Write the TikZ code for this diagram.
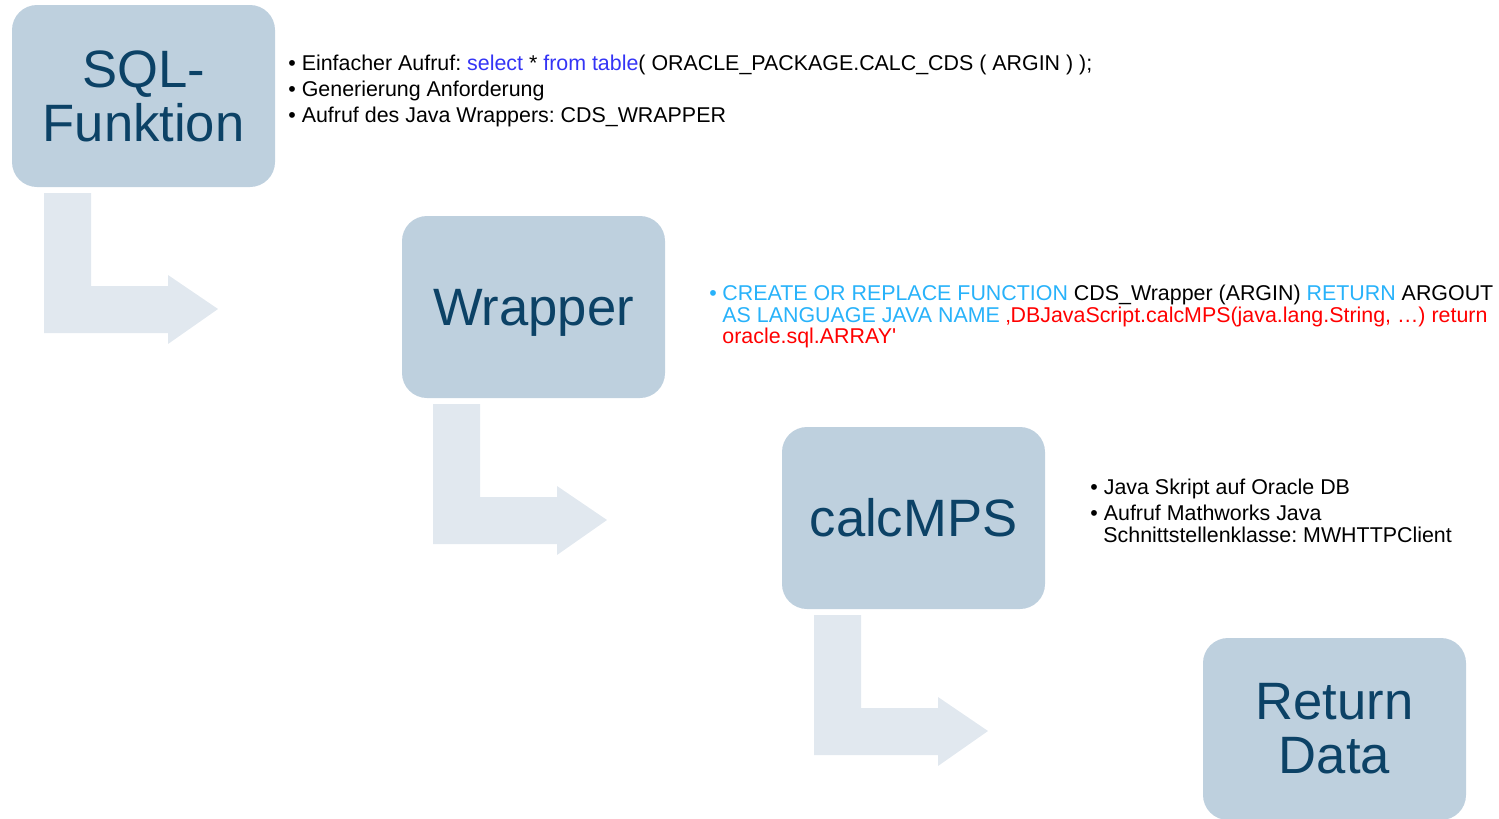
\documentclass[tikz,border=0pt]{standalone}
\usepackage{fontspec}
\setmainfont[Ligatures=TeXOff]{Liberation Sans}
\frenchspacing
\definecolor{boxfill}{RGB}{190,208,222}
\definecolor{boxtext}{RGB}{12,66,102}
\definecolor{arrowfill}{RGB}{225,232,239}
\definecolor{kwblue}{RGB}{52,52,245}
\definecolor{kwcyan}{RGB}{40,178,250}
\definecolor{kwred}{RGB}{255,0,0}
\tikzset{
  stepbox/.style={fill=boxfill, draw=none, rounded corners=12.5pt,
    minimum width=131.5pt, minimum height=91pt, inner sep=0pt,
    text=boxtext, align=center, font=\fontsize{26.3}{27}\selectfont},
  bullettext/.style={anchor=base west, inner sep=0pt, font=\fontsize{10.7}{11}\selectfont},
  bentarrow/.pic={
    \fill[arrowfill] (0,0) -- (47,0) -- (47,93) -- (124,93) -- (124,82)
      -- (174,116) -- (124,151) -- (124,140) -- (0,140) -- cycle;
  }
}
\begin{document}
\begin{tikzpicture}[x=0.5pt,y=-0.5pt]
\useasboundingbox (0,0) rectangle (1499,819);
% boxes
\node[stepbox] (sql) at (143.5,96) {SQL-\\Funktion};
\node[stepbox, text depth=0pt] (wrap) at (533.5,307) {Wrapper};
\node[stepbox] (calc) at (913.5,518) {calcMPS};
\begin{scope}
\clip (0,0) rectangle (1499,819);
\node[stepbox] (ret) at (1334.5,729) {Return\\Data};
\end{scope}
% bent arrows
\pic (a1) at (44,193) {bentarrow};
\pic (a2) at (433,404) {bentarrow};
\pic (a3) at (814,615) {bentarrow};
% text block 1
\node[bullettext] (b1a) at (288,70) {• Einfacher Aufruf: \textcolor{kwblue}{select} * \textcolor{kwblue}{from table}( ORACLE\_PACKAGE.CALC\_CDS ( ARGIN ) );};
\node[bullettext] (b1b) at (288,96) {• Generierung Anforderung};
\node[bullettext] (b1c) at (288,122) {• Aufruf des Java Wrappers: CDS\_WRAPPER};
% text block 2
\node[bullettext, text=kwcyan] (b2bul) at (709,300) {•};
\node[bullettext] (b2a) at (722,300) {\textcolor{kwcyan}{CREATE OR REPLACE FUNCTION} CDS\_Wrapper (ARGIN) \textcolor{kwcyan}{RETURN} ARGOUT};
\node[bullettext] (b2b) at (722,322) {\textcolor{kwcyan}{AS LANGUAGE JAVA NAME} \textcolor{kwred}{‚DBJavaScript.calcMPS(java.lang.String, …) return}};
\node[bullettext, text=kwred] (b2c) at (722,343) {oracle.sql.ARRAY\textquotesingle};
% text block 3
\node[bullettext] (b3a) at (1090,494) {• Java Skript auf Oracle DB};
\node[bullettext] (b3b) at (1090,520) {• Aufruf Mathworks Java};
\node[bullettext] (b3c) at (1103,542) {Schnittstellenklasse: MWHTTPClient};
\end{tikzpicture}
\end{document}
